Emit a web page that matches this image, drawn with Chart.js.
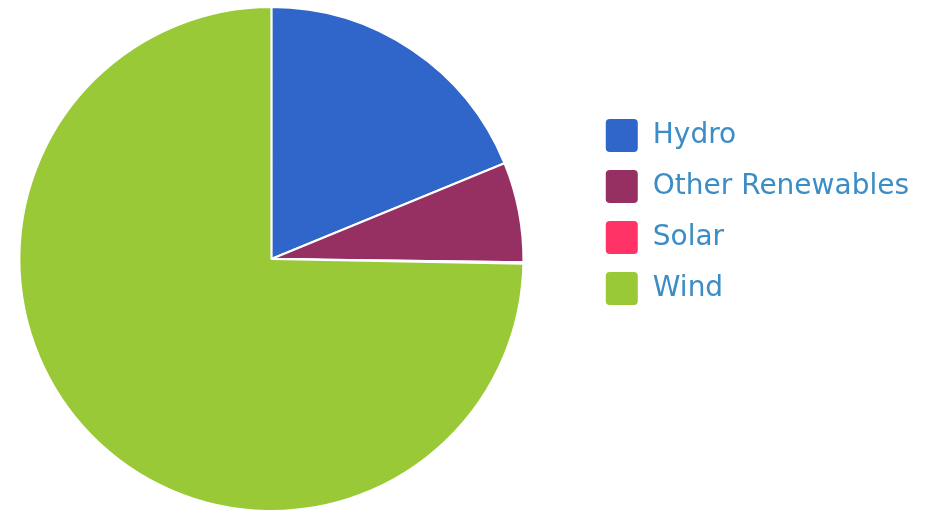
<!DOCTYPE html>
<html>
<head>
<meta charset="utf-8">
<script src="https://cdn.jsdelivr.net/npm/chart.js@4"></script>
<style>
    html, body { margin: 0; padding: 0; background: #fff; }
    #wrap { width: 945px; height: 510px; }
</style>
</head>
<body>
<div id="wrap"><canvas id="pieChart"></canvas></div>
<script>
    // Renewable generation share by source
    const sources = ['Hydro', 'Other Renewables', 'Solar', 'Wind'];
    const shares = [18.8, 6.4, 0.1, 74.7];
    const sliceColors = ['#3066c9', '#963062', '#ff3366', '#99c936'];

    // widen the legend a bit so it keeps some distance from the pie
    const legendSpacer = {
        id: 'legendSpacer',
        beforeInit(chart) {
            const originalFit = chart.legend.fit;
            chart.legend.fit = function fit() {
                originalFit.bind(chart.legend)();
                this.width += 26;
            };
        },
        // let the pie use the free space on the left side
        afterLayout(chart) {
            const area = chart.chartArea;
            area.left -= 46;
            area.width += 46;
            area.bottom += 2;
            area.height += 2;
        }
    };

    const ctx = document.getElementById('pieChart').getContext('2d');
    new Chart(ctx, {
        type: 'pie',
        data: {
            labels: sources,
            datasets: [{
                data: shares,
                backgroundColor: sliceColors,
                borderColor: '#ffffff',
                borderWidth: 2
            }]
        },
        options: {
            responsive: true,
            maintainAspectRatio: false,
            animation: false,
            layout: {
                padding: { top: 6 }
            },
            plugins: {
                legend: {
                    position: 'right',
                    align: 'start',
                    // empty title only pushes the items down
                    title: {
                        display: true,
                        text: ' ',
                        font: { size: 10 },
                        padding: { top: 84, bottom: 0 }
                    },
                    labels: {
                        boxWidth: 34,
                        boxHeight: 35,
                        padding: 16,
                        useBorderRadius: true,
                        borderRadius: 5,
                        color: '#3c8dc5',
                        font: { family: 'DejaVu Sans', size: 28 }
                    }
                },
                tooltip: { enabled: false }
            }
        },
        plugins: [legendSpacer]
    });
</script>
</body>
</html>
